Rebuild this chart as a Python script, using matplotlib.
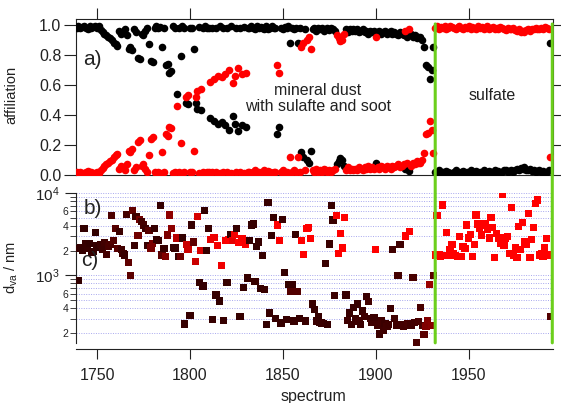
import numpy as np
import matplotlib
matplotlib.use("Agg")
import matplotlib.pyplot as plt
from matplotlib.patches import ConnectionPatch
from matplotlib.colors import LinearSegmentedColormap, Normalize
from matplotlib.ticker import MultipleLocator, LogLocator, FuncFormatter, LogFormatterSciNotation

plt.rcParams["font.family"] = ["Liberation Sans", "DejaVu Sans"]
plt.rcParams["mathtext.default"] = "regular"

# spectra 1739 .. 1994, one affiliation value and one size per spectrum
first_spectrum = 1739

# affiliation to the "red" cluster
red_aff = [
    .02, .01, .02, .015, .01, .02, .025, .01, .02, .015,      # 1739
    .01, .02, .01, .035, .045, .06, .07, .08, .09, .10,       # 1749
    .12, .13, .14, .04, .06, .05, .03, .07, .16, .15,         # 1759
    .17, .03, .05, .22, .23, .06, .07, .04, .02, .13,         # 1769
    .24, .25, .02, .01, .02, .015, .15, .02, .27, .26,        # 1779
    .32, .31, .01, .02, .46, .02, .21, .01, .02, .52,         # 1789
    .53, .02, .02, .16, .52, .56, .015, .57, .02, .01,        # 1799
    .02, .02, .62, .02, .64, .02, .66, .01, .65, .02,         # 1809
    .67, .02, .70, .01, .61, .66, .02, .71, .02, .67,         # 1819
    .015, .68, .02, .02, .01, .02, .03, .01, .02, .015,       # 1829
    .02, .03, .01, .025, .02, .01, .02, .02, .73, .68,        # 1839
    .02, .03, .015, .02, .01, .12, .02, .03, .02, .12,        # 1849
    .02, .85, .88, .03, .90, .92, .84, .03, .02, .04,         # 1859
    .02, .03, .02, .04, .03, .02, .035, .02, .03, .04,        # 1869
    .93, .91, .89, .90, .94, .03, .05, .03, .04, .03,         # 1879
    .04, .03, .05, .04, .03, .05, .04, .06, .04, .05,         # 1889
    .04, .92, .05, .04, .06, .05, .04, .06, .05, .04,         # 1899
    .06, .05, .06, .07, .05, .06, .07, .96, .08, .975,        # 1909
    .06, .08, .07, .09, .08, .08, .10, .145, .27, .28,        # 1919
    .36, .30, .145, .98, .99, .97, .985, .98, .99, .975,      # 1929
    .98, .99, .985, .98, .97, .985, .99, .98, .975, .985,     # 1939
    .98, .99, .97, .985, .98, .975, .99, .98, .985, .97,      # 1949
    .98, .99, .975, .98, .985, .97, .98, .975, .985, .98,     # 1959
    .97, .965, .98, .975, .97, .98, .965, .96, .97, .955,     # 1969
    .96, .95, .965, .97, .96, .975, .97, .98, .975, .97,      # 1979
    .98, .975, .985, .98, .97, .12,                           # 1989
]

dva_nm = [
    2100, 860, 2200, 2000, 3700, 2400, 2150, 2450, 1900, 1950,
    3350, 2300, 2200, 2350, 2050, 2500, 1800, 2250, 2350, 5300,
    2650, 3700, 2100, 3400, 2050, 1850, 1770, 5500, 1450, 1000,
    6100, 2300, 5200, 3050, 4800, 4500, 4100, 3700, 2300, 3500,
    2150, 2450, 3700, 2750, 2650, 7050, 1770, 2100, 1700, 3100,
    5400, 3700, 2200, 2150, 2850, 1700, 1700, 2850, 258, 2350,
    2050, 323, 4100, 2550, 1460, 5200, 820, 2000, 745, 6100,
    2000, 3700, 2750, 290, 2900, 580, 2300, 490, 1330, 285,
    2650, 820, 2750, 3150, 2650, 3150, 3700, 2500, 320, 2800,
    720, 2400, 930, 2650, 4100, 4200, 840, 2250, 2550, 690,
    1750, 680, 255, 7700, 350, 3050, 5050, 300, 4100, 2650,
    265, 4800, 1080, 295, 770, 640, 770, 280, 3150, 640,
    300, 2650, 1800, 280, 3700, 3850, 2800, 450, 385, 280,
    320, 270, 265, 260, 1400, 255, 2400, 7050, 4700, 570,
    5300, 1850, 3250, 2150, 5050, 580, 285, 350, 255, 405,
    300, 450, 280, 255, 370, 320, 550, 485, 300, 270,
    310, 2050, 250, 195, 280, 215, 260, 240, 255, 395,
    2050, 300, 245, 1000, 2350, 255, 240, 3000, 260, 3400,
    250, 940, 270, 155, 275, 405, 245, 190, 240, 285,
    770, 245, 1000, 1770, 5300, 1800, 1700, 7160, 1750, 3350,
    1730, 2050, 2350, 1850, 1750, 1700, 2950, 1700, 2250, 2100,
    4100, 2850, 3150, 1700, 2350, 5400, 4200, 3700, 3100, 4300,
    4100, 3600, 2850, 5000, 3800, 1650, 3200, 2850, 2450, 9500,
    2300, 2850, 2950, 1850, 6700, 1770, 2150, 1650, 3950, 2050,
    4400, 2550, 2400, 5600, 1650, 2700, 3800, 7400, 8200, 1770,
    1850, 1700, 2200, 2800, 1770, 320,
]

region_edges = [1932, 1995]

red_aff = np.array(red_aff)
dva_nm = np.array(dva_nm)
spectrum = np.arange(first_spectrum, first_spectrum + len(red_aff))
black_aff = 1 - red_aff  # the two cluster affiliations add up to one

text_col = "#222222"
green = "#6ccf1c"

fig = plt.figure(figsize=(5.61, 4.03), dpi=100)
ax1 = fig.add_axes([0.1355, 0.5658, 0.8503, 0.3871])
ax2 = fig.add_axes([0.1355, 0.134, 0.8503, 0.3871])

# panel a: affiliation
ax1.scatter(spectrum, black_aff, s=30, color="black", linewidths=0, zorder=3)
ax1.scatter(spectrum, red_aff, s=30, color="#ff0000", linewidths=0, zorder=3)
ax1.set_xlim(1738.7, 1995.4)
ax1.set_ylim(0, 1.04)
ax1.xaxis.set_major_locator(MultipleLocator(50))
ax1.yaxis.set_major_locator(MultipleLocator(0.2))
ax1.yaxis.set_major_formatter(FuncFormatter(lambda v, p: "%.1f" % v))
ax1.tick_params(axis="x", bottom=False, top=True, labelbottom=False,
                direction="out", length=8, color=text_col)
ax1.tick_params(axis="y", left=True, right=True, labelright=False,
                direction="out", length=9, pad=1.5, labelsize=11.5,
                color=text_col, labelcolor=text_col)
for sp in ax1.spines.values():
    sp.set_color(text_col)
ax1.set_ylabel("affiliation", fontsize=10.5, color=text_col)
ax1.yaxis.set_label_coords(-0.12, 0.51)

ax1.text(1747.3, 0.77, "a)", fontsize=15, ha="center", va="center", color=text_col)
ax1.text(1868.8, 0.51, "mineral dust\nwith sulafte and soot", fontsize=11.5,
         ha="center", va="center", linespacing=1.05, color=text_col)
ax1.text(1962.4, 0.533, "sulfate", fontsize=11.5, ha="center", va="center", color=text_col)

# panels b/c: particle size coloured by affiliation
cmap = LinearSegmentedColormap.from_list("dark_red", ["#300000", "#ff0000"])
ax2.scatter(spectrum, dva_nm, c=red_aff, cmap=cmap, norm=Normalize(0, 0.7),
            marker="s", s=27, linewidths=0, zorder=3)
ax2.set_yscale("log")
ax2.set_xlim(1738.7, 1995.4)
ax2.set_ylim(128, 1e4)
ax2.xaxis.set_major_locator(MultipleLocator(50))
ax2.yaxis.set_major_locator(LogLocator(base=10, numticks=6))
ax2.yaxis.set_minor_locator(LogLocator(base=10, subs=np.arange(2, 10), numticks=12))
ax2.yaxis.set_major_formatter(LogFormatterSciNotation())


def minor_label(v, pos):
    lead = int(round(v / 10 ** np.floor(np.log10(v))))
    return str(lead) if lead in (2, 4, 6) else ""


ax2.yaxis.set_minor_formatter(FuncFormatter(minor_label))
ax2.tick_params(axis="y", which="major", direction="out", length=8, pad=4,
                labelsize=11, color=text_col, labelcolor=text_col)
ax2.tick_params(axis="y", which="minor", direction="out", length=4, pad=1.5,
                labelsize=7.5, color=text_col, labelcolor=text_col)
ax2.tick_params(axis="x", direction="out", length=7.5, pad=6.5, labelsize=11.5,
                color=text_col, labelcolor=text_col)
ax2.spines["top"].set_visible(False)
ax2.spines["right"].set_visible(False)
ax2.spines["left"].set_bounds(152, 1e4)
ax2.spines["left"].set_color(text_col)
ax2.spines["bottom"].set_color(text_col)
ax2.grid(True, which="both", axis="y", color="#a8a8ee", linestyle=(0, (1, 1.5)), linewidth=0.7)
ax2.set_axisbelow(True)

ax2.set_ylabel(r"d$_{\mathregular{va}}$ / nm", fontsize=10.5, color=text_col)
ax2.yaxis.set_label_coords(-0.118, 0.52)
ax2.set_xlabel("spectrum", fontsize=11.5, color=text_col)
ax2.xaxis.set_label_coords(0.497, -0.255)

ax2.text(1747.8, 6400, "b)", fontsize=15, ha="center", va="center", color=text_col)
ax2.text(1746.2, 1500, "c)", fontsize=15, ha="center", va="center", color=text_col)

# green separators running through both panels
for xv in region_edges:
    con = ConnectionPatch(xyA=(xv, 1.007), coordsA=ax1.transData,
                          xyB=(xv, 152), coordsB=ax2.transData,
                          color=green, linewidth=2.2, zorder=10)
    fig.add_artist(con)

fig.savefig("out.png", dpi=100)
